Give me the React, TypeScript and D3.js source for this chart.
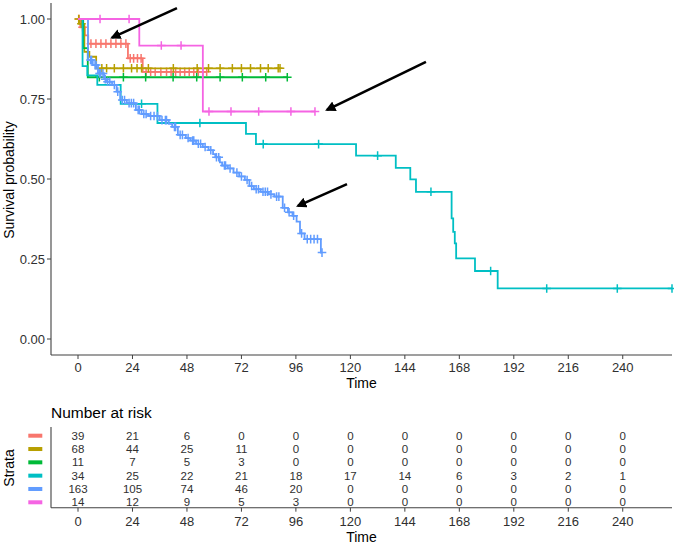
import * as d3 from "d3";

const W = 676;
const H = 546;
const FONT = "'Liberation Sans', Arial, sans-serif";
const TEXT = "#303030";
const AXIS = "#404040";

const STRATA = ["a", "b", "c", "d", "e", "f"];
const COLORS = ["#F8766D", "#B79F00", "#00BA38", "#00BFC4", "#619CFF", "#F564E3"];
const X_TICKS = [0, 24, 48, 72, 96, 120, 144, 168, 192, 216, 240];
const Y_TICKS = [0, 0.25, 0.5, 0.75, 1];

// [time, survival after the event]
const RED_STEPS = [[1, 0.974], [3, 0.949], [4.5, 0.923], [22, 0.877], [28.5, 0.835]];
const RED_CENSOR = [0.5, 2, 5.7, 7.9, 10.1, 12.3, 14.5, 16.7, 18.9, 21.1, 23, 24.5, 26.2, 27.8, 30, 32, 34, 36.5, 39, 41, 43, 45, 47, 49, 51, 53, 55, 56.7];
const GOLD_STEPS = [[0.5, 0.985], [2.8, 0.897], [5, 0.882], [8, 0.846]];
const GOLD_CENSOR = [0.3, 1.5, 10.5, 12.6, 16, 20, 23.6, 26, 28, 31, 42, 52.5, 57.5, 62.6, 68, 72, 76, 80.4, 83.8, 88.2, 89];
const GREEN_STEPS = [[2.3, 0.909], [4.3, 0.818]];
const GREEN_CENSOR = [9.4, 20, 29.8, 41.9, 52.3, 62.6, 72.4, 82.7, 92.2];
const CYAN_STEPS = [
  [2, 0.853], [4.1, 0.824], [8.5, 0.794], [18.8, 0.735], [35, 0.675], [74, 0.641], [78.4, 0.609],
  [122.5, 0.573], [140, 0.535], [146.4, 0.499], [148.9, 0.46], [164.6, 0.377], [165.3, 0.335],
  [166, 0.299], [166.6, 0.252], [174.9, 0.2125], [184.9, 0.158],
];
const CYAN_CENSOR = [28, 53.7, 81.6, 106, 132, 155.5, 181.8, 206.5, 237.6, 261.7];
const BLUE_STEPS = [
  [4.4, 0.872], [6.5, 0.856], [8.8, 0.83], [11.5, 0.812], [12.5, 0.804], [15, 0.794], [17, 0.773],
  [18.6, 0.747], [21.5, 0.737], [25.5, 0.716], [28, 0.703], [31, 0.697], [36, 0.684], [40, 0.672],
  [41.5, 0.663], [44, 0.638], [47.5, 0.628], [49.5, 0.62], [52, 0.61], [55, 0.6], [57.5, 0.59],
  [59.5, 0.578], [60.5, 0.568], [62.5, 0.552], [63.5, 0.542], [66, 0.533], [68.5, 0.52], [71, 0.508],
  [73.5, 0.497], [75.5, 0.478], [77.5, 0.468], [80.5, 0.46], [84, 0.452], [86.5, 0.445], [90.2, 0.41],
  [92.5, 0.396], [94.5, 0.385], [96.3, 0.367], [97.8, 0.33], [99.8, 0.312], [107, 0.27],
];
const BLUE_CENSOR = [
  5.5, 6, 7.5, 8, 9.5, 10, 11, 12, 13, 14, 16, 17.5, 19.5, 20.5, 22.5, 23.5, 24.5, 26.5, 27, 29, 30,
  32, 33.5, 35, 37, 38.5, 39, 42.5, 43, 45, 46, 48.5, 50.5, 51, 53, 54, 56, 58.5, 61, 62, 64.5, 65,
  67, 70, 72, 74.5, 76.5, 78.5, 79.5, 81.5, 82.5, 83.5, 85, 87.5, 88.5, 91, 93, 95, 98.5, 101, 102.5,
  104, 105.5, 107.5,
];
const PINK_STEPS = [[27, 0.917], [55, 0.711]];
const PINK_CENSOR = [9.7, 22.5, 36.7, 45.4, 57.7, 67.4, 79.6, 93.8, 104.4];

const STEPS = [RED_STEPS, GOLD_STEPS, GREEN_STEPS, CYAN_STEPS, BLUE_STEPS, PINK_STEPS];
const CENSORS = [RED_CENSOR, GOLD_CENSOR, GREEN_CENSOR, CYAN_CENSOR, BLUE_CENSOR, PINK_CENSOR];

const RISK = [
  [39, 21, 6, 0, 0, 0, 0, 0, 0, 0, 0],
  [68, 44, 25, 11, 0, 0, 0, 0, 0, 0, 0],
  [11, 7, 5, 3, 0, 0, 0, 0, 0, 0, 0],
  [34, 25, 22, 21, 18, 17, 14, 6, 3, 2, 1],
  [163, 105, 74, 46, 20, 0, 0, 0, 0, 0, 0],
  [14, 12, 9, 5, 3, 0, 0, 0, 0, 0, 0],
];

// arrows: [tailTime, tailSurv, headTime, headSurv]
const ARROWS = [
  [43.6, 1.034, 15, 0.942],
  [153.3, 0.866, 109.7, 0.716],
  [118.5, 0.484, 96.9, 0.416],
];

const x = d3.scaleLinear().domain([-11.9, 261.7]).range([51, 672]);
const y = d3.scaleLinear().domain([-0.05, 1.05]).range([355, 3]);
const rowY = d3.scalePoint<string>().domain(STRATA).range([435.7, 502.3]);

function survAt(steps: number[][], t: number) {
  let s = 1;
  for (const [st, sv] of steps) if (st <= t) s = sv;
  return s;
}

const line = d3
  .line<number[]>()
  .x((d) => x(d[0]))
  .y((d) => y(d[1]))
  .curve(d3.curveStepAfter);

export default function App() {
  const [x0, x1] = x.range();
  const plotBottom = 355;
  const tableBottom = 507.7;
  return (
    <svg width={W} height={H} style={{ position: "absolute", left: 0, top: 0, background: "#fff" }} fontFamily={FONT}>
      <defs>
        <clipPath id="plotclip">
          <rect x={x0} y={0} width={x1 - x0 + 2} height={plotBottom} />
        </clipPath>
        <marker id="ahead" viewBox="0 0 10 10" refX="8" refY="5" markerWidth="4" markerHeight="4" orient="auto">
          <path d="M0,0 L10,5 L0,10 z" fill="#000" />
        </marker>
      </defs>

      {/* curves */}
      <g clipPath="url(#plotclip)">
        {STEPS.map((steps, i) => {
          const cens = CENSORS[i];
          const end = cens[cens.length - 1];
          const pts = [[0, 1], ...steps, [end, survAt(steps, end)]];
          return (
            <g key={i}>
              <path d={line(pts) || ""} fill="none" stroke={COLORS[i]} strokeWidth={1.8} />
              {cens.map((t, j) => {
                const cx = x(t);
                const cy = y(survAt(steps, t));
                return (
                  <path
                    key={j}
                    d={`M${cx - 4.3},${cy}H${cx + 4.3}M${cx},${cy - 4.3}V${cy + 4.3}`}
                    stroke={COLORS[i]}
                    strokeWidth={1.5}
                  />
                );
              })}
            </g>
          );
        })}
      </g>

      {/* arrows */}
      {ARROWS.map((a, i) => (
        <line
          key={i}
          x1={x(a[0])}
          y1={y(a[1])}
          x2={x(a[2])}
          y2={y(a[3])}
          stroke="#000"
          strokeWidth={2.6}
          markerEnd="url(#ahead)"
        />
      ))}

      {/* main axes */}
      <line x1={x0} x2={x1} y1={plotBottom} y2={plotBottom} stroke={AXIS} strokeWidth={1.1} />
      <line x1={x0} x2={x0} y1={3} y2={plotBottom} stroke={AXIS} strokeWidth={1.1} />
      {Y_TICKS.map((t) => (
        <g key={t}>
          <line x1={x0 - 4} x2={x0} y1={y(t)} y2={y(t)} stroke={AXIS} />
          <text x={x0 - 6} y={y(t)} dy="0.35em" textAnchor="end" fontSize={13} fill={TEXT}>
            {d3.format(".2f")(t)}
          </text>
        </g>
      ))}
      {X_TICKS.map((t) => (
        <g key={t}>
          <line x1={x(t)} x2={x(t)} y1={plotBottom} y2={plotBottom + 4} stroke={AXIS} />
          <text x={x(t)} y={367.7} dy="0.35em" textAnchor="middle" fontSize={13} fill={TEXT}>
            {t}
          </text>
        </g>
      ))}
      <text x={(x0 + x1) / 2} y={383} dy="0.35em" textAnchor="middle" fontSize={14} fill="#000">
        Time
      </text>
      <text transform={`translate(9,180) rotate(-90)`} dy="0.35em" textAnchor="middle" fontSize={14} fill="#000">
        Survival probability
      </text>

      {/* risk table */}
      <text x={x0} y={413} dy="0.35em" fontSize={15.5} fill="#000">
        Number at risk
      </text>
      <line x1={x0} x2={x1} y1={tableBottom} y2={tableBottom} stroke={AXIS} strokeWidth={1.1} />
      <line x1={x0} x2={x0} y1={427} y2={tableBottom} stroke={AXIS} strokeWidth={1.1} />
      {X_TICKS.map((t) => (
        <g key={t}>
          <line x1={x(t)} x2={x(t)} y1={tableBottom} y2={tableBottom + 4} stroke={AXIS} />
          <text x={x(t)} y={521.7} dy="0.35em" textAnchor="middle" fontSize={13} fill={TEXT}>
            {t}
          </text>
        </g>
      ))}
      {STRATA.map((s, i) => (
        <g key={s}>
          <rect x={28.3} y={(rowY(s) || 0) - 2} width={14} height={4} fill={COLORS[i]} />
          {RISK[i].map((v, j) => (
            <text key={j} x={x(X_TICKS[j])} y={rowY(s)} dy="0.35em" textAnchor="middle" fontSize={11.5} fill={TEXT}>
              {v}
            </text>
          ))}
        </g>
      ))}
      <text x={(x0 + x1) / 2} y={536.7} dy="0.35em" textAnchor="middle" fontSize={14} fill="#000">
        Time
      </text>
      <text transform={`translate(9,468) rotate(-90)`} dy="0.35em" textAnchor="middle" fontSize={14} fill="#000">
        Strata
      </text>
    </svg>
  );
}
